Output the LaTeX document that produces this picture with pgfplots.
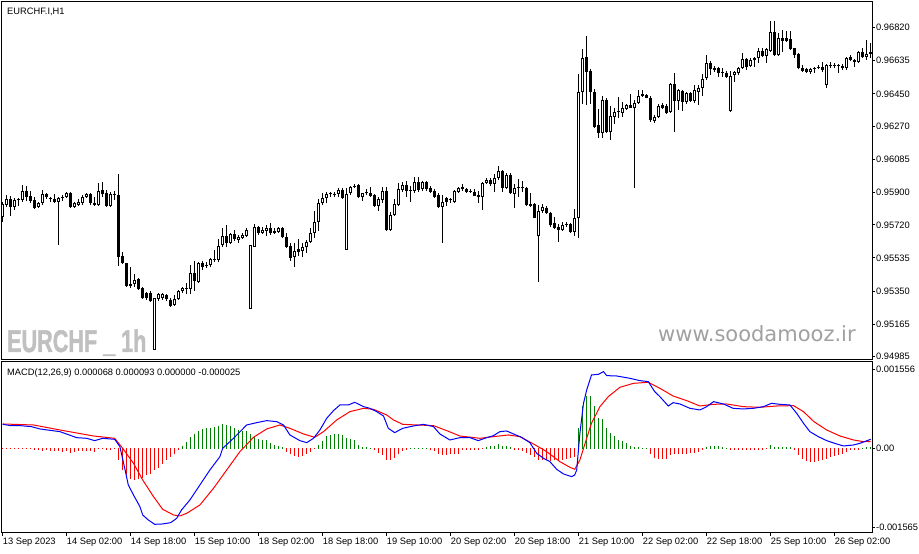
\documentclass[border=0pt]{standalone}
\usepackage{fontspec}
\setmainfont{Liberation Sans}
\newfontfamily\wmfont{DejaVu Sans}
\newfontfamily\wmbold[FakeBold=1.6]{Liberation Sans Bold}
\usepackage{graphicx}
\usepackage{pgfplots}
\usepackage{pgfplotstable}
\pgfplotsset{compat=1.18}

\definecolor{hgreen}{RGB}{0,128,0}
\definecolor{wmgray}{RGB}{192,192,192}
\definecolor{urlgray}{RGB}{160,160,160}

% EURCHF H1 candles: bar, open, high, low, close
\pgfplotstableread{
i o h l c
0 0.95764 0.95848 0.95736 0.95837
1 0.95831 0.95887 0.95820 0.95865
2 0.95865 0.95881 0.95770 0.95820
3 0.95820 0.95870 0.95803 0.95859
4 0.95859 0.95870 0.95826 0.95857
5 0.95859 0.95943 0.95848 0.95909
6 0.95909 0.95937 0.95853 0.95876
7 0.95881 0.95909 0.95842 0.95853
8 0.95859 0.95876 0.95809 0.95814
9 0.95820 0.95848 0.95814 0.95842
10 0.95842 0.95915 0.95831 0.95892
11 0.95892 0.95898 0.95865 0.95876
12 0.95870 0.95876 0.95848 0.95865
13 0.95865 0.95892 0.95842 0.95848
14 0.95848 0.95876 0.95608 0.95870
15 0.95870 0.95887 0.95853 0.95876
16 0.95876 0.95904 0.95870 0.95898
17 0.95898 0.95904 0.95814 0.95820
18 0.95820 0.95848 0.95814 0.95842
19 0.95831 0.95865 0.95826 0.95848
20 0.95842 0.95887 0.95831 0.95876
21 0.95876 0.95898 0.95870 0.95892
22 0.95892 0.95898 0.95831 0.95842
23 0.95842 0.95876 0.95826 0.95831
24 0.95831 0.95954 0.95826 0.95909
25 0.95915 0.95959 0.95876 0.95892
26 0.95898 0.95915 0.95820 0.95826
27 0.95826 0.95904 0.95820 0.95892
28 0.95892 0.95909 0.95859 0.95887
29 0.95887 0.96004 0.95491 0.95541
30 0.95547 0.95569 0.95502 0.95507
31 0.95507 0.95507 0.95374 0.95379
32 0.95390 0.95485 0.95368 0.95379
33 0.95390 0.95446 0.95374 0.95413
34 0.95418 0.95424 0.95357 0.95362
35 0.95368 0.95374 0.95307 0.95312
36 0.95340 0.95346 0.95301 0.95312
37 0.95340 0.95351 0.95290 0.95295
38 0.95022 0.95312 0.95022 0.95312
39 0.95307 0.95340 0.95295 0.95334
40 0.95312 0.95340 0.95301 0.95334
41 0.95329 0.95334 0.95295 0.95307
42 0.95301 0.95312 0.95262 0.95268
43 0.95273 0.95329 0.95268 0.95307
44 0.95307 0.95357 0.95301 0.95351
45 0.95351 0.95374 0.95340 0.95368
46 0.95368 0.95396 0.95334 0.95362
47 0.95362 0.95496 0.95334 0.95452
48 0.95452 0.95519 0.95351 0.95407
49 0.95401 0.95513 0.95396 0.95507
50 0.95507 0.95519 0.95468 0.95485
51 0.95491 0.95513 0.95480 0.95489
52 0.95496 0.95535 0.95485 0.95530
53 0.95530 0.95580 0.95513 0.95524
54 0.95524 0.95641 0.95513 0.95602
55 0.95608 0.95703 0.95597 0.95658
56 0.95658 0.95719 0.95597 0.95619
57 0.95619 0.95675 0.95613 0.95669
58 0.95669 0.95692 0.95630 0.95641
59 0.95636 0.95664 0.95619 0.95653
60 0.95647 0.95675 0.95641 0.95664
61 0.95658 0.95703 0.95653 0.95692
62 0.95251 0.95608 0.95251 0.95608
63 0.95597 0.95725 0.95597 0.95708
64 0.95708 0.95714 0.95664 0.95675
65 0.95675 0.95708 0.95669 0.95692
66 0.95686 0.95719 0.95658 0.95703
67 0.95703 0.95731 0.95664 0.95675
68 0.95675 0.95703 0.95669 0.95686
69 0.95680 0.95708 0.95675 0.95703
70 0.95703 0.95708 0.95647 0.95653
71 0.95653 0.95675 0.95591 0.95597
72 0.95602 0.95619 0.95519 0.95535
73 0.95541 0.95619 0.95485 0.95574
74 0.95583 0.95641 0.95547 0.95571
75 0.95574 0.95619 0.95541 0.95597
76 0.95597 0.95636 0.95563 0.95625
77 0.95625 0.95703 0.95619 0.95675
78 0.95675 0.95798 0.95647 0.95736
79 0.95736 0.95865 0.95686 0.95842
80 0.95842 0.95898 0.95831 0.95870
81 0.95870 0.95904 0.95842 0.95892
82 0.95892 0.95904 0.95876 0.95890
83 0.95892 0.95904 0.95876 0.95887
84 0.95892 0.95926 0.95876 0.95915
85 0.95915 0.95926 0.95865 0.95870
86 0.95580 0.95926 0.95580 0.95892
87 0.95898 0.95937 0.95887 0.95932
88 0.95932 0.95948 0.95926 0.95930
89 0.95943 0.95948 0.95870 0.95876
90 0.95876 0.95900 0.95853 0.95898
91 0.95898 0.95920 0.95887 0.95895
92 0.95898 0.95932 0.95876 0.95881
93 0.95887 0.95892 0.95820 0.95826
94 0.95826 0.95876 0.95798 0.95865
95 0.95859 0.95932 0.95842 0.95909
96 0.95909 0.95932 0.95686 0.95692
97 0.95692 0.95792 0.95686 0.95775
98 0.95775 0.95865 0.95770 0.95837
99 0.95831 0.95954 0.95826 0.95920
100 0.95915 0.95959 0.95904 0.95943
101 0.95943 0.95965 0.95876 0.95909
102 0.95915 0.95937 0.95848 0.95909
103 0.95909 0.95987 0.95898 0.95959
104 0.95959 0.95987 0.95904 0.95915
105 0.95920 0.95965 0.95909 0.95959
106 0.95959 0.95965 0.95909 0.95920
107 0.95926 0.95937 0.95898 0.95904
108 0.95909 0.95920 0.95870 0.95876
109 0.95887 0.95898 0.95815 0.95820
110 0.95820 0.95887 0.95619 0.95848
111 0.95870 0.95876 0.95826 0.95848
112 0.95859 0.95870 0.95842 0.95856
113 0.95848 0.95915 0.95842 0.95909
114 0.95904 0.95932 0.95898 0.95926
115 0.95932 0.95948 0.95909 0.95920
116 0.95920 0.95926 0.95898 0.95904
117 0.95904 0.95920 0.95898 0.95902
118 0.95904 0.95920 0.95881 0.95883
119 0.95887 0.95909 0.95842 0.95876
120 0.95876 0.95959 0.95803 0.95954
121 0.95954 0.95982 0.95948 0.95971
122 0.95971 0.95982 0.95937 0.95948
123 0.95948 0.96004 0.95904 0.95982
124 0.95982 0.96049 0.95971 0.96021
125 0.96021 0.96026 0.95904 0.95926
126 0.95926 0.96010 0.95920 0.95998
127 0.95998 0.96010 0.95892 0.95898
128 0.95892 0.95948 0.95814 0.95926
129 0.95926 0.95976 0.95876 0.95924
130 0.95926 0.95965 0.95904 0.95924
131 0.95926 0.95932 0.95826 0.95831
132 0.95837 0.95898 0.95820 0.95826
133 0.95837 0.95842 0.95756 0.95759
134 0.95658 0.95831 0.95401 0.95798
135 0.95798 0.95837 0.95786 0.95820
136 0.95814 0.95826 0.95781 0.95786
137 0.95786 0.95792 0.95708 0.95719
138 0.95731 0.95764 0.95697 0.95703
139 0.95708 0.95725 0.95625 0.95692
140 0.95692 0.95736 0.95686 0.95719
141 0.95719 0.95736 0.95708 0.95717
142 0.95725 0.95731 0.95675 0.95680
143 0.95680 0.95809 0.95658 0.95759
144 0.95759 0.96562 0.95647 0.96462
145 0.96462 0.96702 0.96395 0.96651
146 0.96657 0.96774 0.96389 0.96573
147 0.96579 0.96590 0.96395 0.96462
148 0.96462 0.96478 0.96261 0.96266
149 0.96277 0.96367 0.96205 0.96233
150 0.96233 0.96439 0.96205 0.96417
151 0.96417 0.96428 0.96233 0.96238
152 0.96238 0.96384 0.96194 0.96328
153 0.96322 0.96372 0.96283 0.96350
154 0.96350 0.96434 0.96317 0.96352
155 0.96344 0.96406 0.96322 0.96372
156 0.96367 0.96395 0.96361 0.96389
157 0.96389 0.96450 0.96372 0.96370
158 0.96372 0.96417 0.95926 0.96400
159 0.96400 0.96473 0.96395 0.96439
160 0.96450 0.96473 0.96434 0.96439
161 0.96445 0.96450 0.96426 0.96428
162 0.96428 0.96439 0.96294 0.96305
163 0.96300 0.96333 0.96289 0.96322
164 0.96322 0.96395 0.96317 0.96384
165 0.96389 0.96400 0.96367 0.96372
166 0.96384 0.96395 0.96339 0.96344
167 0.96350 0.96512 0.96344 0.96506
168 0.96506 0.96568 0.96238 0.96411
169 0.96411 0.96478 0.96361 0.96473
170 0.96467 0.96473 0.96356 0.96406
171 0.96406 0.96462 0.96395 0.96456
172 0.96456 0.96462 0.96406 0.96411
173 0.96411 0.96501 0.96400 0.96473
174 0.96462 0.96501 0.96389 0.96484
175 0.96484 0.96562 0.96439 0.96534
176 0.96540 0.96668 0.96529 0.96623
177 0.96623 0.96635 0.96556 0.96590
178 0.96596 0.96607 0.96573 0.96584
179 0.96596 0.96601 0.96545 0.96568
180 0.96568 0.96596 0.96545 0.96565
181 0.96568 0.96579 0.96540 0.96545
182 0.96356 0.96579 0.96350 0.96551
183 0.96556 0.96579 0.96517 0.96573
184 0.96568 0.96601 0.96556 0.96596
185 0.96596 0.96679 0.96590 0.96646
186 0.96646 0.96651 0.96584 0.96601
187 0.96607 0.96651 0.96601 0.96640
188 0.96640 0.96657 0.96601 0.96651
189 0.96651 0.96707 0.96623 0.96690
190 0.96690 0.96707 0.96657 0.96663
191 0.96663 0.96707 0.96623 0.96702
192 0.96690 0.96858 0.96685 0.96796
193 0.96796 0.96858 0.96663 0.96668
194 0.96668 0.96791 0.96663 0.96763
195 0.96763 0.96808 0.96685 0.96746
196 0.96763 0.96802 0.96741 0.96746
197 0.96757 0.96802 0.96696 0.96702
198 0.96707 0.96707 0.96651 0.96668
199 0.96674 0.96679 0.96590 0.96596
200 0.96596 0.96612 0.96573 0.96579
201 0.96590 0.96596 0.96568 0.96573
202 0.96573 0.96596 0.96562 0.96590
203 0.96590 0.96601 0.96568 0.96596
204 0.96596 0.96612 0.96590 0.96598
205 0.96601 0.96629 0.96573 0.96584
206 0.96501 0.96618 0.96484 0.96612
207 0.96604 0.96629 0.96596 0.96612
208 0.96607 0.96623 0.96596 0.96605
209 0.96607 0.96618 0.96568 0.96605
210 0.96607 0.96618 0.96584 0.96596
211 0.96596 0.96657 0.96584 0.96651
212 0.96657 0.96668 0.96635 0.96640
213 0.96640 0.96646 0.96601 0.96629
214 0.96629 0.96687 0.96623 0.96685
215 0.96685 0.96707 0.96651 0.96657
216 0.96657 0.96752 0.96640 0.96674
217 0.96674 0.96735 0.96651 0.96685
}\candles

% MACD histogram
\pgfplotstableread{
i h
0 -0.000004
1 -0.000004
2 -0.000004
3 -0.000004
4 -0.000004
5 -0.000004
6 -0.000004
7 -0.000004
8 -0.000033
9 -0.000033
10 -0.000046
11 -0.000033
12 -0.000046
13 -0.000046
14 -0.000046
15 -0.000066
16 -0.000046
17 -0.000086
18 -0.000073
19 -0.000046
20 -0.000046
21 -0.000046
22 -0.000046
23 -0.000066
24 -0.000007
25 -0.000007
26 -0.000033
27 -0.000033
28 -0.000007
29 -0.000231
30 -0.000429
31 -0.000528
32 -0.000607
33 -0.000614
34 -0.000594
35 -0.000574
36 -0.000528
37 -0.000495
38 -0.000429
39 -0.000376
40 -0.000297
41 -0.000231
42 -0.000165
43 -0.000099
44 -0.000020
45 0.000046
46 0.000112
47 0.000218
48 0.000284
49 0.000343
50 0.000376
51 0.000396
52 0.000396
53 0.000416
54 0.000442
55 0.000482
56 0.000462
57 0.000442
58 0.000396
59 0.000363
60 0.000330
61 0.000330
62 0.000284
63 0.000218
64 0.000178
65 0.000165
66 0.000165
67 0.000099
68 0.000066
69 0.000046
70 0.000020
71 -0.000066
72 -0.000112
73 -0.000152
74 -0.000165
75 -0.000152
76 -0.000099
77 -0.000066
78 -0.000007
79 0.000066
80 0.000132
81 0.000231
82 0.000264
83 0.000284
84 0.000284
85 0.000264
86 0.000198
87 0.000178
88 0.000165
89 0.000066
90 0.000020
91 0.000020
92 0.000007
93 -0.000033
94 -0.000086
95 -0.000132
96 -0.000231
97 -0.000231
98 -0.000178
99 -0.000099
100 -0.000046
101 -0.000020
102 0.000007
103 0.000004
104 0.000004
105 0.000007
106 0.000004
107 -0.000020
108 -0.000046
109 -0.000099
110 -0.000132
111 -0.000132
112 -0.000112
113 -0.000112
114 -0.000099
115 -0.000020
116 -0.000020
117 -0.000020
118 -0.000020
119 -0.000020
120 -0.000007
121 0.000020
122 0.000033
123 0.000046
124 0.000086
125 0.000046
126 0.000046
127 0.000020
128 -0.000020
129 -0.000033
130 -0.000046
131 -0.000086
132 -0.000132
133 -0.000165
134 -0.000218
135 -0.000231
136 -0.000231
137 -0.000244
138 -0.000231
139 -0.000218
140 -0.000218
141 -0.000198
142 -0.000178
143 -0.000165
144 0.000396
145 0.000825
146 0.001036
147 0.001036
148 0.000825
149 0.000594
150 0.000574
151 0.000396
152 0.000297
153 0.000231
154 0.000165
155 0.000132
156 0.000099
157 0.000046
158 0.000020
159 0.000013
160 0.000007
161 0.000007
162 -0.000099
163 -0.000178
164 -0.000198
165 -0.000198
166 -0.000211
167 -0.000132
168 -0.000112
169 -0.000099
170 -0.000099
171 -0.000099
172 -0.000086
173 -0.000086
174 -0.000066
175 -0.000033
176 0.000020
177 0.000046
178 0.000046
179 0.000033
180 0.000020
181 0.000007
182 -0.000020
183 -0.000033
184 -0.000020
185 -0.000020
186 -0.000020
187 -0.000020
188 -0.000020
189 -0.000020
190 -0.000020
191 -0.000007
192 0.000066
193 0.000020
194 0.000020
195 0.000020
196 0.000020
197 0.000020
198 -0.000033
199 -0.000132
200 -0.000198
201 -0.000244
202 -0.000264
203 -0.000264
204 -0.000244
205 -0.000218
206 -0.000198
207 -0.000165
208 -0.000152
209 -0.000119
210 -0.000112
211 -0.000066
212 -0.000033
213 -0.000020
214 -0.000020
215 0.000007
216 0.000020
217 0.000020
}\hist

% MACD main line (blue)
\pgfplotstableread{
x y
0 0.000475
2 0.000449
4.3 0.000449
7.2 0.000429
9.3 0.000383
14.3 0.000330
18.5 0.000211
21 0.000198
23 0.000152
25 0.000198
28 0.000178
29.3 0.000033
30.6 -0.000429
31.4 -0.000726
32.7 -0.000924
34.3 -0.001155
35 -0.001320
36.4 -0.001419
38 -0.001505
40 -0.001498
42 -0.001472
43.5 -0.001386
44.7 -0.001221
46.8 -0.001023
49.3 -0.000726
51.8 -0.000429
54.3 -0.000165
55 0
57.7 0.000198
61 0.000462
63.5 0.000508
66 0.000548
68.5 0.000528
70.2 0.000462
71.8 0.000264
74.3 0.000152
76 0.000112
77.7 0.000198
79.3 0.000363
81 0.000594
82.7 0.000746
84.3 0.000858
86.4 0.000858
88 0.000911
90.2 0.000825
91.8 0.000792
93.5 0.000726
95.2 0.000640
96.4 0.000396
98 0.000310
100 0.000396
102.7 0.000442
105.2 0.000475
107.7 0.000429
109.3 0.000284
111.8 0.000165
114.3 0.000211
116.8 0.000211
118.9 0.000152
121 0.000211
122.7 0.000251
124.3 0.000330
126 0.000343
127.7 0.000284
129.7 0.000218
131.8 0.000112
133.5 -0.000099
135.2 -0.000198
136.8 -0.000264
138.5 -0.000416
140.2 -0.000508
142.2 -0.000561
143 -0.000528
143.5 -0.000429
144.3 0.000297
145.2 0.000891
146 0.001155
147.2 0.001452
148.9 0.001465
150.2 0.001518
151 0.001439
153.5 0.001432
156.8 0.001386
159.3 0.001340
161.4 0.001320
163 0.001122
164.3 0.001023
166.4 0.000838
167.6 0.000904
169.3 0.000878
171.8 0.000792
174.3 0.000759
176 0.000825
177.7 0.000924
180.2 0.000878
182.6 0.000792
185.1 0.000779
187.7 0.000792
190.2 0.000825
192.2 0.000891
194.3 0.000871
196.8 0.000858
198.5 0.000693
200.2 0.000495
201.8 0.000330
203.9 0.000231
206 0.000152
208.5 0.000086
210.2 0.000046
212.7 0.000066
214.3 0.000099
217 0.000178
}\macdline

% signal line (red)
\pgfplotstableread{
x y
0 0.000482
7.7 0.000462
14.3 0.000363
22.7 0.000244
28 0.000198
30 0
32.7 -0.000297
35 -0.000627
37.7 -0.000957
40 -0.001208
42.7 -0.001320
44.3 -0.001340
46 -0.001287
49.3 -0.001122
52.7 -0.000792
56 -0.000429
59.3 -0.000066
62.7 0.000218
66 0.000383
69.3 0.000462
71.8 0.000396
75.2 0.000284
78 0.000218
80.2 0.000330
83.5 0.000561
86.8 0.000726
90.2 0.000792
92.7 0.000772
96 0.000660
97.7 0.000561
100 0.000475
103.5 0.000462
107.7 0.000449
111 0.000350
114.3 0.000244
119.3 0.000198
122.7 0.000231
126.4 0.000264
129.3 0.000231
132.7 0.000086
136 -0.000066
139.3 -0.000264
141.8 -0.000376
143 -0.000416
144.3 -0.000231
145.6 0.000099
147.2 0.000495
149.3 0.000825
151.4 0.001023
154.3 0.001208
157.7 0.001287
161.4 0.001307
164.3 0.001188
167.6 0.001036
171 0.000944
174.3 0.000838
177.7 0.000871
181 0.000878
185.1 0.000825
189.3 0.000812
193.5 0.000838
197.7 0.000845
200.2 0.000726
202.8 0.000528
206 0.000363
209.3 0.000244
212.7 0.000165
215.2 0.000132
217 0.000132
}\signalline

\pgfplotsset{
  mtpanel/.style={
    anchor=south west, scale only axis, width=870pt,
    xmin=-0.175, xmax=217.325,
    axis line style={line width=1pt},
    tick style={black, line width=1pt},
    tick align=outside, major tick length=3pt,
    ytick pos=right, yticklabel pos=right,
    scaled y ticks=false,
    yticklabel style={anchor=west, inner sep=0pt, xshift=1pt},
    every tick label/.append style={font=\fontsize{9.3}{11}\selectfont},
  },
}

\begin{document}
\begin{tikzpicture}
\useasboundingbox (0,0) rectangle (919pt,554pt);

\begin{axis}[mtpanel, at={(2pt,194pt)}, height=358pt,
  ymin=0.94966, ymax=0.96963, xtick=\empty,
  ytick={0.96820,0.96635,0.96450,0.96270,0.96085,0.95900,0.95720,0.95535,0.95350,0.95165,0.94985},
  yticklabels={0.96820,0.96635,0.96450,0.96270,0.96085,0.95900,0.95720,0.95535,0.95350,0.95165,0.94985},
]
% wicks
\addplot[draw=none, mark=none,
  error bars/.cd, y dir=plus, y explicit, error mark=none,
  error bar style={draw=black, line width=1pt}]
  table[x=i, y=l, y error expr=\thisrow{h}-\thisrow{l}] {\candles};
% bodies
\addplot[draw=none, mark=none,
  error bars/.cd, y dir=plus, y explicit, error mark=none,
  error bar style={draw=black, line width=3pt}]
  table[x=i, y expr={min(\thisrow{o},\thisrow{c})},
        y error expr={max(abs(\thisrow{c}-\thisrow{o}),0.0000558)}] {\candles};
% hollow inside of the rising candles
\addplot[draw=none, mark=none,
  error bars/.cd, y dir=plus, y explicit, error mark=none,
  error bar style={draw=white, line width=1pt}]
  table[x=i, y expr={\thisrow{c}>\thisrow{o} ? \thisrow{o}+0.0000558 : nan},
        y error expr={max(\thisrow{c}-\thisrow{o}-0.0001116,0)}] {\candles};
\end{axis}

\begin{axis}[mtpanel, at={(2pt,21pt)}, height=171pt,
  ymin=-0.001677, ymax=0.001709,
  ytick={0.001556,0,-0.001565},
  yticklabels={0.001556,0.00,-0.001565},
  xtick={0,16,...,208}, xtick pos=bottom,
  xticklabels={13 Sep 2023,14 Sep 02:00,14 Sep 18:00,15 Sep 10:00,18 Sep 02:00,18 Sep 18:00,19 Sep 10:00,20 Sep 02:00,20 Sep 18:00,21 Sep 10:00,22 Sep 02:00,22 Sep 18:00,25 Sep 10:00,26 Sep 02:00},
  xticklabel style={anchor=base west, inner sep=0pt, yshift=-9pt},
]
\addplot[ycomb, mark=none, hgreen, line width=0.7pt, line cap=rect, restrict y to domain=0:1]
  table[x=i, y=h] {\hist};
\addplot[ycomb, mark=none, red, line width=0.7pt, line cap=rect, restrict y to domain=-1:0]
  table[x=i, y=h] {\hist};
\addplot[mark=none, red, line width=1pt] table[x=x, y=y] {\signalline};
\addplot[mark=none, blue, line width=1pt] table[x=x, y=y] {\macdline};
\end{axis}

\node[anchor=base west, inner sep=0pt, font=\fontsize{9.3}{11}\selectfont] at (7pt,539.7pt) {EURCHF.I,H1};
\node[anchor=base west, inner sep=0pt, font=\fontsize{9.3}{11}\selectfont] at (7pt,178.7pt) {MACD(12,26,9) 0.000068 0.000093 0.000000 -0.000025};
\node[anchor=base west, inner sep=0pt, text=wmgray] at (7pt,202pt)
  {\scalebox{0.69}[1]{\wmbold\fontsize{31.3}{32}\selectfont EURCHF \_ 1h}};
\node[anchor=base west, inner sep=0pt, text=urlgray] at (658pt,212pt)
  {\wmfont\fontsize{21}{22}\selectfont www.soodamooz.ir};
\end{tikzpicture}
\end{document}
